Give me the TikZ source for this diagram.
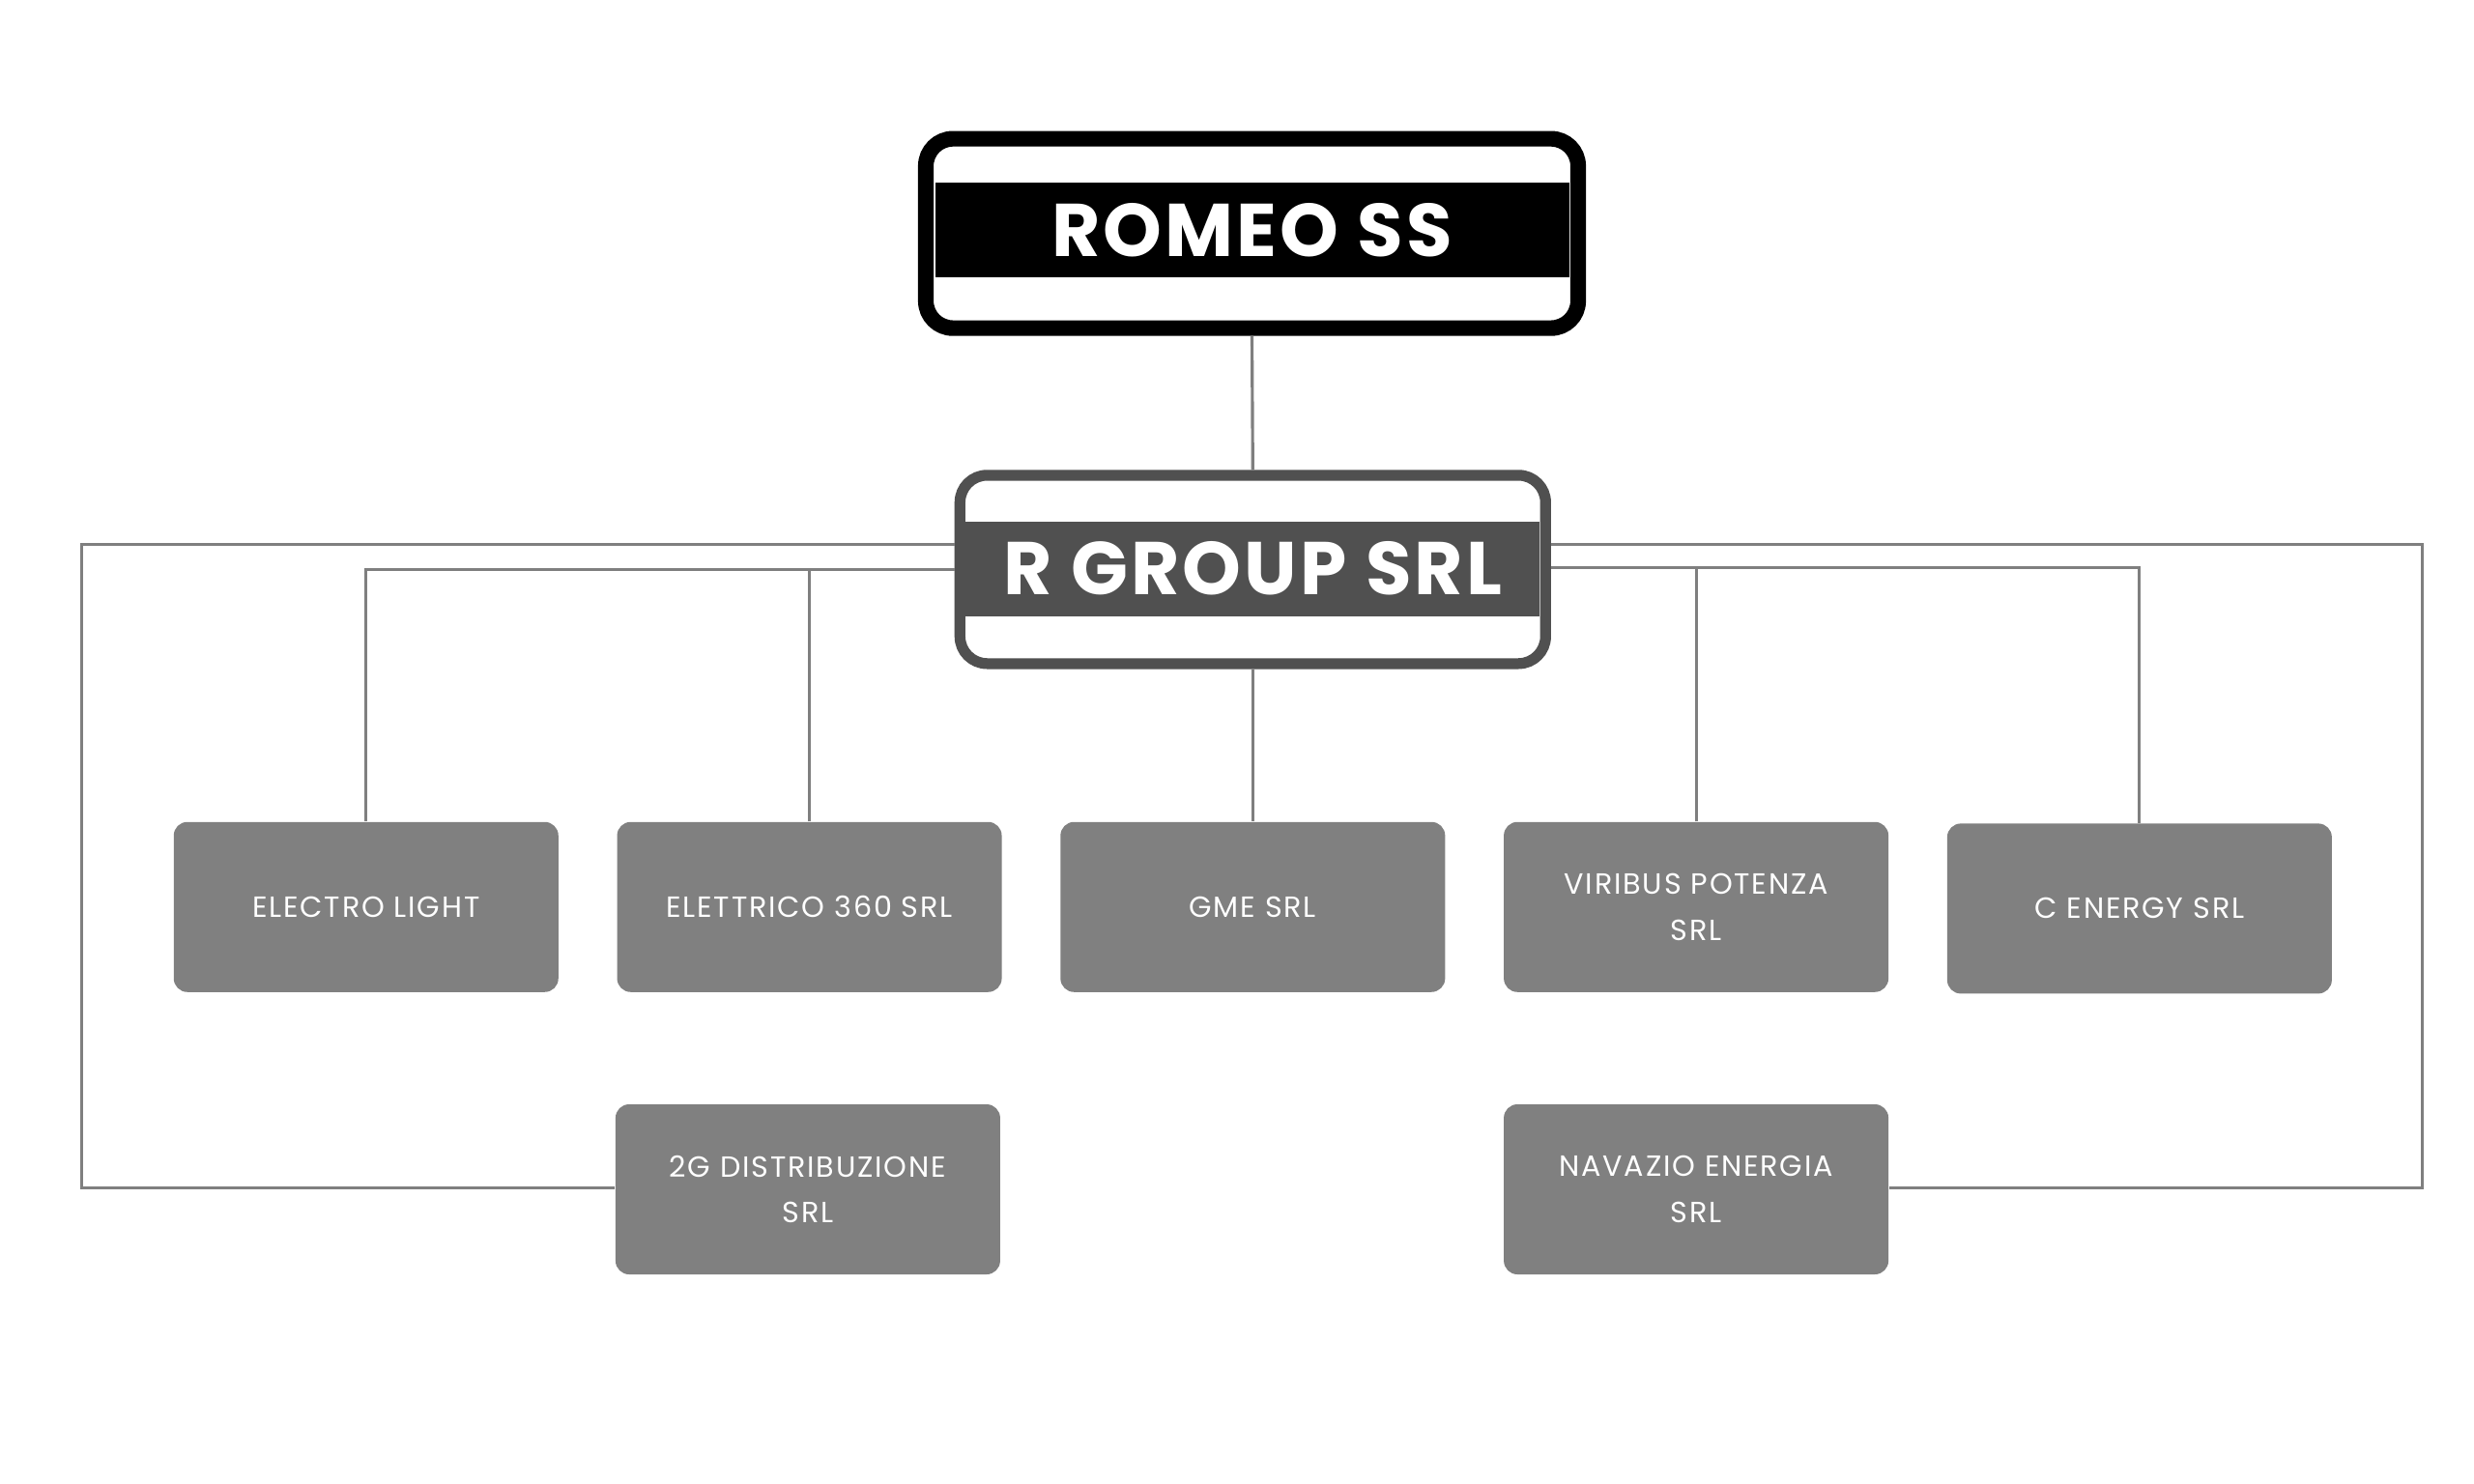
\documentclass[tikz,border=0pt]{standalone}
\usepackage{fontspec}
\setmainfont{Poppins}
\newfontfamily\headfont[LetterSpace=4]{Poppins}
\newfontfamily\unitfont[LetterSpace=6]{Poppins}
\usetikzlibrary{positioning}
\definecolor{unitgray}{HTML}{808080}
\definecolor{groupgray}{HTML}{505050}
\definecolor{linkgray}{HTML}{7F7F7F}

\tikzset{
	unit/.style={fill=unitgray, rounded corners=4pt, minimum width=3.98cm,
		minimum height=1.76cm, align=center, text=white,
		font=\unitfont\fontsize{8.6}{13.5}\selectfont},
	link/.style={draw=linkgray, line width=0.9pt},
	head/.style={rounded corners=8pt, fill=white},
	band/.style={minimum height=0.98cm, inner sep=0pt},
	title/.style={text=white, font=\headfont\bfseries\fontsize{22}{24}\selectfont}
}

\begin{document}
\begin{tikzpicture}[x=0.01633cm,y=-0.01633cm]

	\useasboundingbox (0,0) rectangle (1568,940.6);

	% headers
	\node[head, draw=black, line width=4.6pt, minimum width=6.75cm, minimum height=1.96cm] (romeo) at (793.5,148) {};
	\node[band, fill=black, minimum width=6.56cm] (romeoband) at (793.5,146) {};
	\node[title] (romeotext) at (romeoband) {ROMEO SS};

	\node[head, draw=groupgray, line width=3.2pt, minimum width=6.06cm, minimum height=1.95cm] (rgroup) at (794,361) {};
	\node[band, fill=groupgray, minimum width=5.94cm] (rgroupband) at (794,360.5) {};
	\node[title] (rgrouptext) at (rgroupband) {R GROUP SRL};

	% units
	\node[unit] (electro) at (232,575) {ELECTRO LIGHT};
	\node[unit] (elettrico) at (513,575) {ELETTRICO 360 SRL};
	\node[unit] (gme) at (794,575) {GME SRL};
	\node[unit] (viribus) at (1075,575) {VIRIBUS POTENZA\\SRL};
	\node[unit] (cenergy) at (1356,576) {C ENERGY SRL};
	\node[unit] (distrib) at (512,754) {2G DISTRIBUZIONE\\SRL};
	\node[unit] (navazio) at (1075,754) {NAVAZIO ENERGIA\\SRL};

	% links
	\draw[link] (romeo.south) -- (rgroup.north);
	\draw[link] (rgroup.south) -- (gme.north);
	\draw[link] (rgroup.west |- 0,361) -| (electro.north);
	\draw[link] (elettrico.north) -- (elettrico.north |- 0,361);
	\draw[link] (rgroup.east |- 0,360) -| (cenergy.north);
	\draw[link] (viribus.north) -- (viribus.north |- 0,360);
	\draw[link] (rgroup.west |- 0,345) -| (52,753) -- (distrib.west |- 0,753);
	\draw[link] (rgroup.east |- 0,345) -| (1535,753) -- (navazio.east |- 0,753);

\end{tikzpicture}
\end{document}
